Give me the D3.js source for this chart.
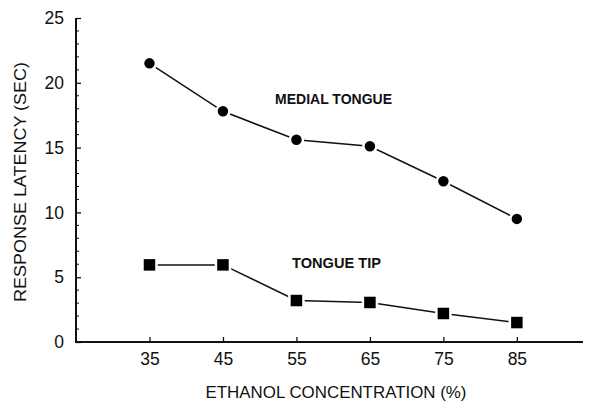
<!DOCTYPE html>
<html>
<head>
<meta charset="utf-8">
<script src="https://cdn.jsdelivr.net/npm/d3@7"></script>
<style>
  body { margin: 0; background: #fff; }
  text { font-family: 'Liberation Sans', Arial, sans-serif; fill: #111; }
</style>
</head>
<body>
<div id="chart-container"></div>
<script>
// data
const concentrations = [35, 45, 55, 65, 75, 85];
const medialTongue = [21.5, 17.8, 15.6, 15.1, 12.4, 9.5];
const tongueTip = [5.95, 5.95, 3.2, 3.05, 2.2, 1.5];
const yTicks = [0, 5, 10, 15, 20, 25];

const W = 589, H = 402;
const margin = { top: 18, right: 6, bottom: 60, left: 76 };
const width = W - margin.left - margin.right;
const height = H - margin.top - margin.bottom;

const svg = d3.select('#chart-container')
  .append('svg')
  .attr('width', W)
  .attr('height', H);

const g = svg.append('g')
  .attr('transform', `translate(${margin.left}, ${margin.top})`);

// x and y scales
const x = d3.scaleLinear().domain([25, 94]).range([0, width]);
const y = d3.scaleLinear().domain([0, 25]).range([height, 0]);

// axis lines as thin filled rects
g.append('rect')
  .attr('x', -1).attr('y', y(25))
  .attr('width', 2).attr('height', y(0) - y(25) + 1)
  .attr('fill', '#111');
g.append('rect')
  .attr('x', -1).attr('y', y(0) - 1)
  .attr('width', width + 1).attr('height', 2)
  .attr('fill', '#111');

// x axis with ticks pointing up into the plot
const xAxis = g.append('g')
  .attr('transform', `translate(0,${height})`)
  .call(d3.axisBottom(x).tickValues(concentrations).tickSizeInner(-5).tickSizeOuter(0).tickPadding(11));
xAxis.select('.domain').remove();
xAxis.selectAll('.tick line').attr('stroke', '#111').attr('stroke-width', 1.3);
xAxis.selectAll('.tick text').style('font-size', '17.5px').style('fill', '#111');

// y axis, major ticks every 5, minor every 1
const yAxis = g.append('g')
  .call(d3.axisLeft(y).tickValues(yTicks).tickSizeInner(-5).tickSizeOuter(0).tickPadding(12));
yAxis.select('.domain').remove();
yAxis.selectAll('.tick line').attr('stroke', '#111').attr('stroke-width', 1.3);
yAxis.selectAll('.tick text').style('font-size', '17.5px').style('fill', '#111');

g.append('g')
  .selectAll('rect')
  .data(d3.range(0, 25, 1).filter((d) => d % 5 !== 0))
  .join('rect')
  .attr('x', 0)
  .attr('y', (d) => y(d) - 0.5)
  .attr('width', 3)
  .attr('height', 1)
  .attr('fill', '#111');

// axis titles
svg.append('text')
  .attr('x', 336)
  .attr('y', 398)
  .attr('text-anchor', 'middle')
  .attr('textLength', 261)
  .attr('lengthAdjust', 'spacingAndGlyphs')
  .style('font-size', '16px')
  .text('ETHANOL CONCENTRATION (%)');

svg.append('text')
  .attr('transform', 'translate(26,182) rotate(-90)')
  .attr('text-anchor', 'middle')
  .attr('textLength', 240)
  .attr('lengthAdjust', 'spacingAndGlyphs')
  .style('font-size', '16.5px')
  .text('RESPONSE LATENCY (SEC)');

// line generator
const line = d3.line()
  .x((d, i) => x(concentrations[i]))
  .y((d) => y(d));

[medialTongue, tongueTip].forEach((vals) => {
  g.append('path')
    .datum(vals)
    .attr('fill', 'none')
    .attr('stroke', '#111')
    .attr('stroke-width', 1.5)
    .attr('d', line);
});

// markers, white outline leaves small gap where the line meets them
g.selectAll('.circ')
  .data(medialTongue)
  .join('circle')
  .attr('cx', (d, i) => x(concentrations[i]))
  .attr('cy', (d) => y(d))
  .attr('r', 6.5)
  .attr('fill', '#000')
  .attr('stroke', '#fff')
  .attr('stroke-width', 2.5);

g.selectAll('.sq')
  .data(tongueTip)
  .join('rect')
  .attr('x', (d, i) => x(concentrations[i]) - 7)
  .attr('y', (d) => y(d) - 7)
  .attr('width', 14)
  .attr('height', 14)
  .attr('fill', '#000')
  .attr('stroke', '#fff')
  .attr('stroke-width', 2.5);

// series labels
svg.append('text')
  .attr('x', 275)
  .attr('y', 104)
  .attr('textLength', 117)
  .attr('lengthAdjust', 'spacingAndGlyphs')
  .style('font-size', '14px')
  .style('font-weight', 'bold')
  .text('MEDIAL TONGUE');

svg.append('text')
  .attr('x', 292)
  .attr('y', 268)
  .attr('textLength', 89)
  .attr('lengthAdjust', 'spacingAndGlyphs')
  .style('font-size', '14px')
  .style('font-weight', 'bold')
  .text('TONGUE TIP');
</script>
</body>
</html>
